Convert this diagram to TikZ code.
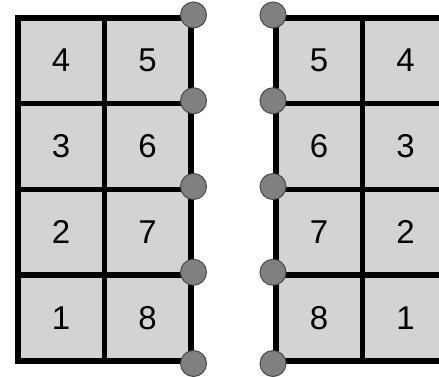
\documentclass[tikz,border=0pt]{standalone}
\usepackage{fontspec}
\setmainfont{Liberation Sans}
\definecolor{cellgray}{HTML}{D3D3D3}
\definecolor{dotgray}{HTML}{808080}
\definecolor{dotedge}{HTML}{4A4A4A}
\tikzset{
  cell/.style={draw=black, fill=cellgray, line width=5.5pt, rectangle, inner sep=0pt,
    minimum width=86.5pt, minimum height=85.75pt, anchor=north west,
    font=\fontsize{33}{36}\selectfont},
  dot/.style={circle, draw=dotedge, fill=dotgray, line width=1pt, inner sep=0pt, minimum size=26pt}
}
\begin{document}
\begin{tikzpicture}[x=1pt,y=-1pt, line join=miter]
\useasboundingbox (0,0) rectangle (439,376);
\clip (0,0) rectangle (439,376);
% left grid
\node[cell] (L4) at (15,15) {4};
\node[cell] (L5) at (101.5,15) {5};
\node[cell] (L3) at (15,100.75) {3};
\node[cell] (L6) at (101.5,100.75) {6};
\node[cell] (L2) at (15,186.5) {2};
\node[cell] (L7) at (101.5,186.5) {7};
\node[cell] (L1) at (15,272.25) {1};
\node[cell] (L8) at (101.5,272.25) {8};
% right grid
\node[cell] (R5) at (273,15) {5};
\node[cell] (R4) at (359.5,15) {4};
\node[cell] (R6) at (273,100.75) {6};
\node[cell] (R3) at (359.5,100.75) {3};
\node[cell] (R7) at (273,186.5) {7};
\node[cell] (R2) at (359.5,186.5) {2};
\node[cell] (R8) at (273,272.25) {8};
\node[cell] (R1) at (359.5,272.25) {1};
% dots
\node[dot] (a1) at (L5.north east) {};
\node[dot] (a2) at (L6.north east) {};
\node[dot] (a3) at (L7.north east) {};
\node[dot] (a4) at (L8.north east) {};
\node[dot] (a5) at (L8.south east) {};
\node[dot] (b1) at (R5.north west) {};
\node[dot] (b2) at (R6.north west) {};
\node[dot] (b3) at (R7.north west) {};
\node[dot] (b4) at (R8.north west) {};
\node[dot] (b5) at (R8.south west) {};
\end{tikzpicture}
\end{document}
